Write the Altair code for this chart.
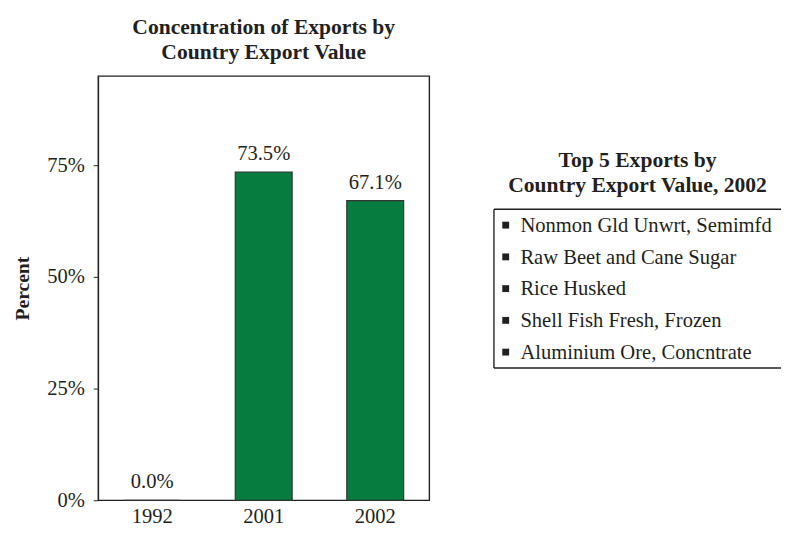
import altair as alt
import pandas as pd

# ---- data ----
years = ["1992", "2001", "2002"]
shares = [0.0, 0.735, 0.671]
share_labels = ["0.0%", "73.5%", "67.1%"]
y_ticks = [0, 0.25, 0.5, 0.75]
top_exports = [
    "Nonmon Gld Unwrt, Semimfd",
    "Raw Beet and Cane Sugar",
    "Rice Husked",
    "Shell Fish Fresh, Frozen",
    "Aluminium Ore, Concntrate",
]

FONT = "Liberation Serif"
TXT = "#231f20"
GREEN = "#077c3f"

LEG_W = 293
LEG_H = 162

bars_df = pd.DataFrame({"year": years, "share": shares, "label": share_labels})
legend_df = pd.DataFrame({"item": top_exports})

base = alt.Chart(bars_df).encode(
    x=alt.X(
        "year:N",
        sort=years,
        title=None,
        scale=alt.Scale(paddingInner=0.49, paddingOuter=0.23),
        axis=alt.Axis(labelAngle=0, ticks=False, domain=False, labelFont=FONT,
                      labelFontSize=21, labelColor=TXT, labelPadding=6),
    ),
    y=alt.Y(
        "share:Q",
        title="Percent",
        scale=alt.Scale(domain=[0, 0.95], nice=False),
        axis=alt.Axis(values=y_ticks, format=".0%", grid=False, tickSize=5,
                      tickColor=TXT, domainColor=TXT, labelFont=FONT, labelFontSize=21,
                      labelColor=TXT, labelPadding=9, titleFont=FONT, titleFontSize=20,
                      titleFontWeight="bold", titleColor=TXT, titlePadding=15),
    ),
)

bars = base.mark_bar(color=GREEN, stroke="#333333", strokeWidth=1.2)
bar_text = base.mark_text(dy=-18, font=FONT, fontSize=21, color=TXT).encode(text="label:N")

left = (bars + bar_text).properties(
    width=338,
    height=433,
    title=alt.Title(["Concentration of Exports by", "Country Export Value"], font=FONT,
                    fontSize=22, fontWeight="bold", color=TXT, anchor="middle",
                    lineHeight=26, offset=12),
    view=alt.ViewBackground(stroke=TXT, strokeWidth=1.4),
)

spacer = alt.Chart(legend_df).mark_point(opacity=0).encode(
    x=alt.value(0), y=alt.value(0)
).properties(width=LEG_W, height=75, view=alt.ViewBackground(strokeOpacity=0))

leg_base = alt.Chart(legend_df).encode(
    y=alt.Y("item:N", sort=top_exports, axis=None,
            scale=alt.Scale(paddingOuter=0.35, paddingInner=0))
)
leg_marks = leg_base.mark_point(shape="square", filled=True, color=TXT, size=49, opacity=1).encode(
    x=alt.value(12)
)
leg_text = leg_base.mark_text(align="left", baseline="middle", font=FONT, fontSize=21,
                              color=TXT, dy=1).encode(x=alt.value(27), text="item:N")

# legend frame (right side runs off the page edge, as in the original)
frame_df = pd.DataFrame({"k": [0]})
frame_top = alt.Chart(frame_df).mark_rule(color=TXT, strokeWidth=1.4).encode(
    x=alt.value(0), x2=alt.value(LEG_W), y=alt.value(0))
frame_bottom = alt.Chart(frame_df).mark_rule(color=TXT, strokeWidth=1.4).encode(
    x=alt.value(0), x2=alt.value(LEG_W), y=alt.value(LEG_H))
frame_left = alt.Chart(frame_df).mark_rule(color=TXT, strokeWidth=1.4).encode(
    x=alt.value(0), y=alt.value(0), y2=alt.value(LEG_H))

legend_panel = alt.layer(frame_top, frame_bottom, frame_left, leg_marks, leg_text).properties(
    width=LEG_W,
    height=LEG_H,
    title=alt.Title(["Top 5 Exports by", "Country Export Value, 2002"], font=FONT,
                    fontSize=22, fontWeight="bold", color=TXT, anchor="middle",
                    lineHeight=25, offset=12),
    view=alt.ViewBackground(strokeOpacity=0),
)

right = alt.vconcat(spacer, legend_panel, spacing=0)

chart = alt.hconcat(left, right, spacing=62).properties(
    padding={"left": 3, "top": 2, "right": 0, "bottom": 0}
).configure(background="white").configure_view(stroke=TXT, strokeWidth=1.4)

chart.save("out.html", embed_options={"renderer": "svg", "actions": False})
